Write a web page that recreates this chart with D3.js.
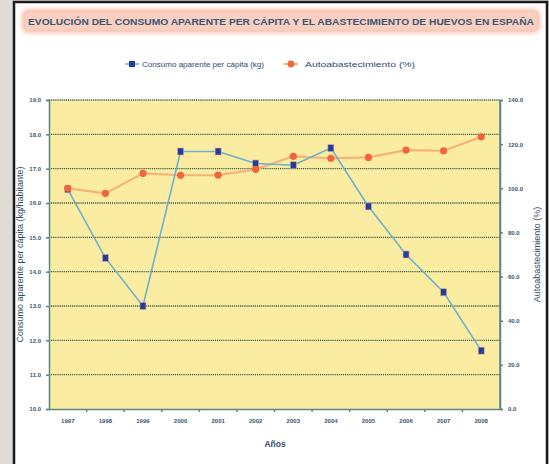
<!DOCTYPE html>
<html lang="es">
<head>
<meta charset="utf-8">
<script src="https://d3js.org/d3.v7.min.js"></script>
<style>
body { margin: 0; background: #dedbd6; }
svg { display: block; font-family: "Liberation Sans", Arial, sans-serif; }
.grid line { stroke: #3f5a50; stroke-width: 1.4; stroke-dasharray: 1.2,0.9; }
.axis path, .axis line { stroke: #5a8686; stroke-width: 1.5; }
.axis text { fill: #3b5570; font-size: 6px; font-weight: bold; }
</style>
</head>
<body>
<svg width="549" height="464"></svg>
<script>
// datos
var years = ["1997","1998","1999","2000","2001","2002","2003","2004","2005","2006","2007","2008"];
var consumo = [16.4, 14.4, 13.0, 17.5, 17.5, 17.15, 17.1, 17.6, 15.9, 14.5, 13.4, 11.7];
var autoabast = [100.0, 97.7, 106.8, 105.9, 106.0, 108.6, 114.5, 113.6, 114.0, 117.3, 117.0, 123.3];
var leftTicks = [10, 11, 12, 13, 14, 15, 16, 17, 18, 19];
var rightTicks = [0, 20, 40, 60, 80, 100, 120, 140];

var svg = d3.select("svg"),
    width = +svg.attr("width"),
    height = +svg.attr("height");

var margin = {left: 49, right: 500, top: 100, bottom: 409};

// marco
svg.append("rect").attr("x", 14).attr("y", 2).attr("width", 533).attr("height", 470)
    .attr("fill", "#ffffff").attr("stroke", "#1a1a1a").attr("stroke-width", 2.5);

// caja del titulo
var defs = svg.append("defs");
var f = defs.append("filter").attr("id", "glow").attr("x", "-5%").attr("y", "-40%").attr("width", "110%").attr("height", "180%");
f.append("feGaussianBlur").attr("stdDeviation", 2.2);
svg.append("rect").attr("x", 22).attr("y", 9).attr("width", 518).attr("height", 24).attr("rx", 6)
    .attr("fill", "#f4a890").attr("opacity", 0.75).attr("filter", "url(#glow)");
svg.append("rect").attr("x", 25).attr("y", 12).attr("width", 512).attr("height", 18).attr("rx", 4)
    .attr("fill", "#f9d0c0");
svg.append("text").attr("x", 281).attr("y", 24.5).attr("text-anchor", "middle")
    .attr("textLength", 506).attr("lengthAdjust", "spacingAndGlyphs")
    .style("font-size", "8.5px").style("font-weight", "bold").style("fill", "#3a5476")
    .text("EVOLUCIÓN DEL CONSUMO APARENTE PER CÁPITA Y EL ABASTECIMIENTO DE HUEVOS EN ESPAÑA");

var x = d3.scaleBand().domain(years).range([margin.left, margin.right]);
var yL = d3.scaleLinear().domain([10, 19]).range([margin.bottom, margin.top]);
var yR = d3.scaleLinear().domain([0, 140]).range([margin.bottom, margin.top]);

// fondo
svg.append("rect").attr("x", margin.left).attr("y", margin.top)
    .attr("width", margin.right - margin.left).attr("height", margin.bottom - margin.top)
    .attr("fill", "#faeda2");

// rejilla
svg.append("g").attr("class", "grid")
  .selectAll("line").data(leftTicks.slice(1)).enter().append("line")
    .attr("x1", margin.left).attr("x2", margin.right)
    .attr("y1", function(d) { return yL(d); }).attr("y2", function(d) { return yL(d); });

// ejes
svg.append("g").attr("class", "axis")
    .attr("transform", "translate(" + margin.left + ",0)")
    .call(d3.axisLeft(yL).tickValues(leftTicks).tickFormat(d3.format(".1f")).tickSize(3).tickPadding(5));
svg.append("g").attr("class", "axis")
    .attr("transform", "translate(" + margin.right + ",0)")
    .call(d3.axisRight(yR).tickValues(rightTicks).tickFormat(d3.format(".1f")).tickSize(3).tickPadding(5));
var xa = svg.append("g").attr("class", "axis")
    .attr("transform", "translate(0," + margin.bottom + ")")
    .call(d3.axisBottom(x).tickSize(0).tickPadding(10));
xa.selectAll(".bound").data(years.slice(1)).enter().append("line")
    .attr("x1", function(d) { return x(d); }).attr("x2", function(d) { return x(d); })
    .attr("y1", 0).attr("y2", 3);
svg.append("line").attr("x1", margin.right).attr("x2", margin.right)
    .attr("y1", margin.top).attr("y2", margin.bottom).attr("stroke", "#5a8686").attr("stroke-width", 1.5);

// titulos de ejes
svg.append("text").attr("transform", "translate(23," + ((margin.top + margin.bottom) / 2) + ") rotate(-90)")
    .attr("text-anchor", "middle").style("font-size", "9px").style("fill", "#2f4a72")
    .text("Consumo aparente per cápita (kg/habitante)");
svg.append("text").attr("transform", "translate(540," + ((margin.top + margin.bottom) / 2) + ") rotate(-90)")
    .attr("text-anchor", "middle").style("font-size", "9px").style("fill", "#2f4a72")
    .text("Autoabastecimiento (%)");
svg.append("text").attr("x", 275).attr("y", 447).attr("text-anchor", "middle")
    .style("font-size", "8.5px").style("font-weight", "bold").style("fill", "#2f4a72").text("Años");

var cx = function(d, i) { return x(years[i]) + x.bandwidth() / 2; };

// autoabastecimiento (linea)
svg.append("path").datum(autoabast)
    .attr("fill", "none").attr("stroke", "#f7b27a").attr("stroke-width", 2.2)
    .attr("d", d3.line().x(cx).y(function(d) { return yR(d); }));

// consumo
svg.append("path").datum(consumo)
    .attr("fill", "none").attr("stroke", "#6fb0cc").attr("stroke-width", 1.6)
    .attr("d", d3.line().x(cx).y(function(d) { return yL(d); }));

svg.selectAll(".mc").data(consumo).enter().append("rect")
    .attr("x", function(d, i) { return cx(d, i) - 3; })
    .attr("y", function(d) { return yL(d) - 3.5; })
    .attr("width", 6).attr("height", 7)
    .attr("fill", "#1f3f9a").attr("stroke", "#e8a0a0").attr("stroke-width", 0.6);

// autoabastecimiento (marcadores encima)
svg.selectAll(".ma").data(autoabast).enter().append("circle")
    .attr("cx", cx).attr("cy", function(d) { return yR(d); })
    .attr("r", 3.6).attr("fill", "#f2643c");

// leyenda
var lg = svg.append("g").style("font-size", "8px").style("fill", "#2f4a72");
lg.append("line").attr("x1", 125).attr("x2", 139).attr("y1", 64).attr("y2", 64).attr("stroke", "#6fb0cc").attr("stroke-width", 1.5);
lg.append("rect").attr("x", 129).attr("y", 61).attr("width", 6).attr("height", 6).attr("fill", "#1f3f9a");
lg.append("text").attr("x", 142).attr("y", 67).attr("textLength", 122).attr("lengthAdjust", "spacingAndGlyphs")
    .text("Consumo aparente per cápita (kg)");
lg.append("line").attr("x1", 284).attr("x2", 298).attr("y1", 64).attr("y2", 64).attr("stroke", "#f7b27a").attr("stroke-width", 2);
lg.append("circle").attr("cx", 291).attr("cy", 64).attr("r", 3.4).attr("fill", "#f2643c");
lg.append("text").attr("x", 305).attr("y", 67).attr("textLength", 110).attr("lengthAdjust", "spacingAndGlyphs")
    .text("Autoabastecimiento (%)");
</script>
</body>
</html>
